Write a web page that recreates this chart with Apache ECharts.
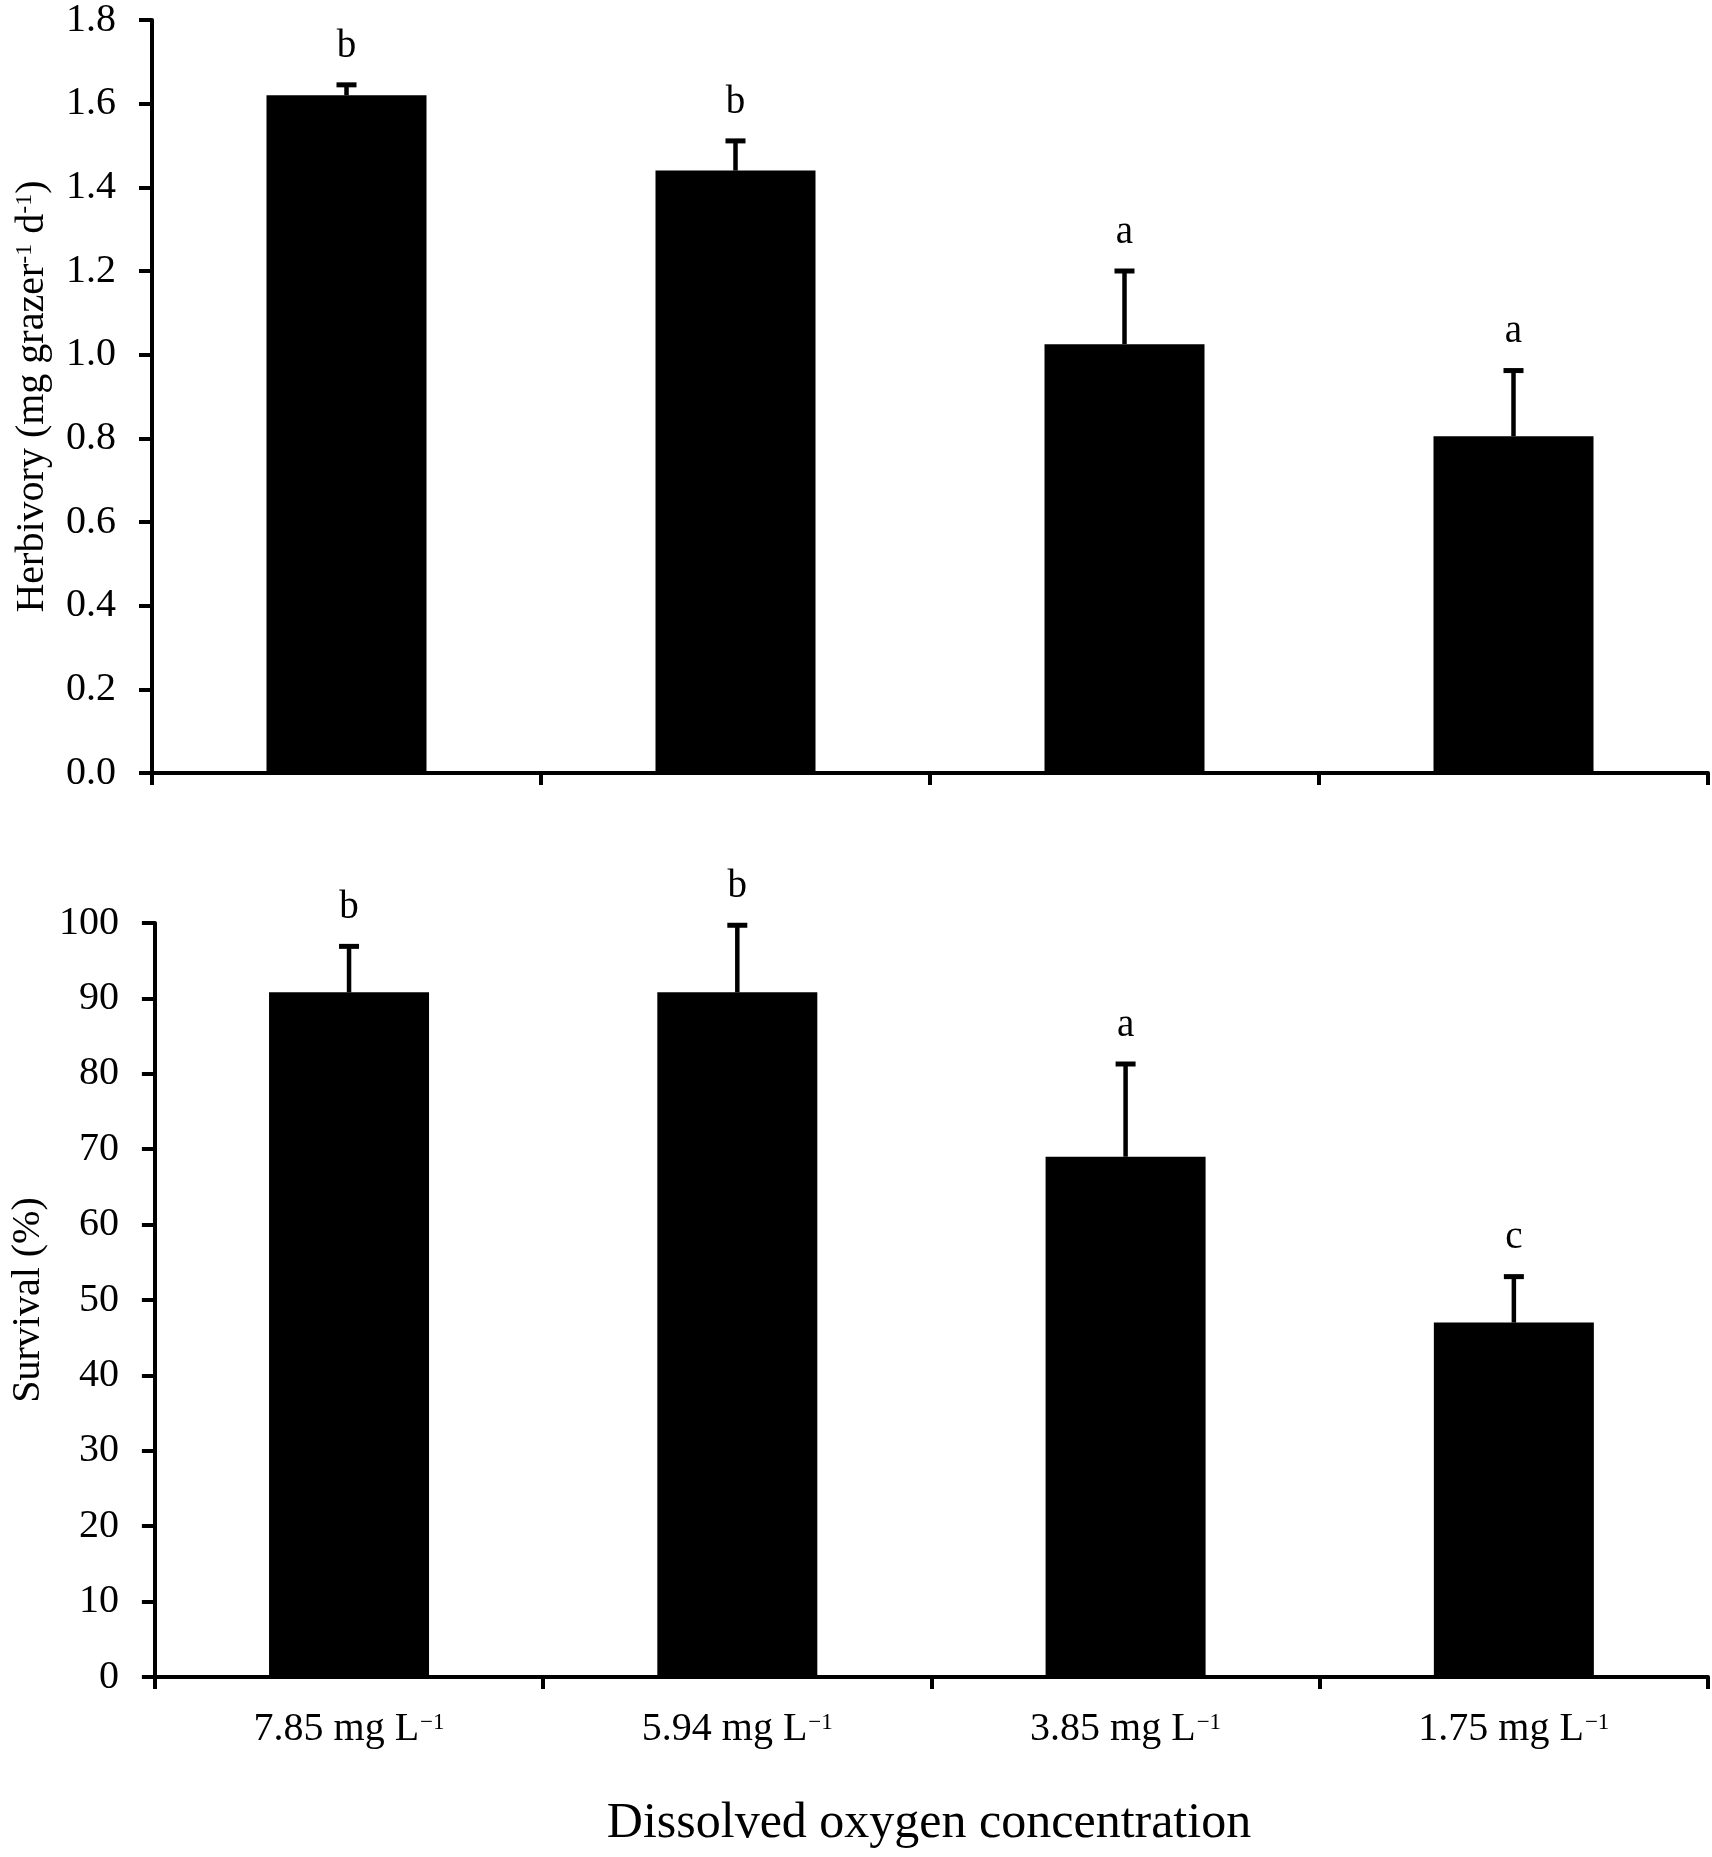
<!DOCTYPE html>
<html>
<head>
<meta charset="utf-8">
<script src="https://cdn.jsdelivr.net/npm/echarts@6/dist/echarts.min.js"></script>
<style>
html,body{margin:0;padding:0;background:#fff;}
#c{width:1712px;height:1857px;}
</style>
</head>
<body>
<div id="c"></div>
<script>
const categories = ['7.85 mg L', '5.94 mg L', '3.85 mg L', '1.75 mg L'];
const herbivory = [1.62, 1.44, 1.025, 0.805];
const herbivorySE = [0.025, 0.071, 0.175, 0.157];
const herbivoryLetters = ['b', 'b', 'a', 'a'];
const survival = [90.8, 90.8, 69.0, 47.0];
const survivalSE = [6.1, 8.9, 12.3, 6.1];
const survivalLetters = ['b', 'b', 'a', 'c'];

const FONT = '"Liberation Serif", "Times New Roman", serif';
const chart = echarts.init(document.getElementById('c'), null, {renderer: 'canvas'});

function errItem(letters) {
  return function (params, api) {
    const x = api.value(0), v = api.value(1), e = api.value(2);
    const base = api.coord([x, v]);
    const top = api.coord([x, v + e]);
    const cx = base[0];
    return {
      type: 'group',
      children: [
        {type: 'line', shape: {x1: cx, y1: base[1], x2: cx, y2: top[1]}, style: {stroke: '#000', lineWidth: 4.5}},
        {type: 'line', shape: {x1: cx - 10, y1: top[1], x2: cx + 10, y2: top[1]}, style: {stroke: '#000', lineWidth: 5}},
        {type: 'text', style: {x: cx, y: top[1] - 19, text: letters[params.dataIndex], font: '39px ' + FONT, fill: '#000', textAlign: 'center', textVerticalAlign: 'bottom'}}
      ]
    };
  };
}

const axisLineStyle = {color: '#000', width: 4};
const catAxisBase = {
  type: 'category',
  data: categories,
  boundaryGap: true,
  axisLine: {lineStyle: axisLineStyle},
  axisTick: {show: true, length: 12, alignWithLabel: false, lineStyle: {color: '#000', width: 4}},
  splitLine: {show: false}
};

const option = {
  backgroundColor: '#fff',
  animation: false,
  grid: [
    {left: 152, top: 17, width: 1556, height: 756},
    {left: 149, top: 923, width: 1559, height: 754}
  ],
  xAxis: [
    Object.assign({}, catAxisBase, {gridIndex: 0, axisLabel: {show: false}}),
    Object.assign({}, catAxisBase, {
      gridIndex: 1,
      axisLabel: {
        show: true, margin: 32, color: '#000',
        formatter: v => '{m|' + v + '}{s|\u22121}',
        rich: {
          m: {fontFamily: FONT, fontSize: 40, color: '#000', verticalAlign: 'bottom'},
          s: {fontFamily: FONT, fontSize: 23, color: '#000', verticalAlign: 'bottom', padding: [0, 0, 15, 1]}
        }
      }
    })
  ],
  yAxis: [
    {
      type: 'value', gridIndex: 0, min: 0, max: 1.8, interval: 0.2,
      axisLine: {show: true, lineStyle: axisLineStyle},
      axisTick: {show: true, length: 13, lineStyle: {color: '#000', width: 4}},
      splitLine: {show: false},
      axisLabel: {margin: 36, color: '#000', fontFamily: FONT, fontSize: 40, formatter: v => v.toFixed(1)},
      name: '{m|Herbivory (mg grazer}{s|-1}{m| d}{s|-1}{m|)}',
      nameLocation: 'middle', nameRotate: 90, nameGap: 100,
      nameTextStyle: {
        rich: {
          m: {fontFamily: FONT, fontSize: 40, color: '#000', verticalAlign: 'bottom'},
          s: {fontFamily: FONT, fontSize: 24, color: '#000', verticalAlign: 'bottom', padding: [0, 0, 15, 0]}
        }
      }
    },
    {
      type: 'value', gridIndex: 1, min: 0, max: 100, interval: 10,
      axisLine: {show: true, lineStyle: axisLineStyle},
      axisTick: {show: true, length: 13, lineStyle: {color: '#000', width: 4}},
      splitLine: {show: false},
      axisLabel: {margin: 36, color: '#000', fontFamily: FONT, fontSize: 40},
      name: 'Survival (%)',
      nameLocation: 'middle', nameRotate: 90, nameGap: 104,
      nameTextStyle: {fontFamily: FONT, fontSize: 40, color: '#000'}
    }
  ],
  series: [
    {type: 'bar', xAxisIndex: 0, yAxisIndex: 0, data: herbivory, barWidth: 160, itemStyle: {color: '#000'}, z: 2},
    {type: 'custom', xAxisIndex: 0, yAxisIndex: 0, renderItem: errItem(herbivoryLetters),
     data: herbivory.map((v, i) => [i, v, herbivorySE[i]]), z: 3},
    {type: 'bar', xAxisIndex: 1, yAxisIndex: 1, data: survival, barWidth: 160, itemStyle: {color: '#000'}, z: 2},
    {type: 'custom', xAxisIndex: 1, yAxisIndex: 1, renderItem: errItem(survivalLetters),
     data: survival.map((v, i) => [i, v, survivalSE[i]]), z: 3}
  ],
  graphic: [
    {type: 'text', x: 929, y: 1799,
     style: {text: 'Dissolved oxygen concentration', font: '50px ' + FONT, fill: '#000', textAlign: 'center', textVerticalAlign: 'top'}}
  ]
};
chart.setOption(option);
</script>
</body>
</html>
